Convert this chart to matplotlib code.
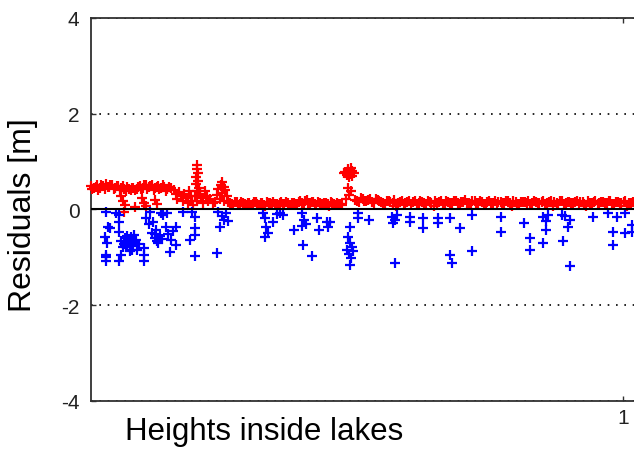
import matplotlib
matplotlib.use("Agg")
import matplotlib.pyplot as plt

plt.rcParams['font.family'] = ['Liberation Sans', 'DejaVu Sans']

# red residuals (above zero)
red_x = [
    # band on the left
    0.000, 0.006, 0.011, 0.017, 0.023, 0.029, 0.034, 0.040, 0.046, 0.052,
    0.057, 0.063, 0.069, 0.075, 0.080, 0.086, 0.092, 0.098, 0.103, 0.109,
    0.115, 0.121, 0.126, 0.132, 0.138, 0.144, 0.150,
    # points hanging under the band
    0.056, 0.060, 0.064, 0.084, 0.097, 0.100, 0.104, 0.121, 0.125, 0.062,
    # going down
    0.156, 0.160, 0.163, 0.166, 0.170, 0.173, 0.176, 0.179, 0.182, 0.185,
    0.188, 0.190, 0.192,
    # first spike
    0.200, 0.199, 0.201, 0.198, 0.202, 0.197, 0.203, 0.199, 0.205, 0.196,
    0.208, 0.200, 0.211,
    0.215, 0.218, 0.221, 0.225, 0.229, 0.233,
    # second spike
    0.247, 0.244, 0.250, 0.240, 0.253, 0.246, 0.238, 0.256, 0.243, 0.251,
    0.258,
    # flat part
    0.262, 0.268, 0.274, 0.280, 0.286, 0.292, 0.298, 0.304, 0.310, 0.316,
    0.322, 0.328, 0.334, 0.340, 0.346, 0.352, 0.358, 0.364, 0.370, 0.376,
    0.382, 0.388, 0.394, 0.400, 0.406, 0.412, 0.418, 0.424, 0.430, 0.436,
    0.442, 0.448, 0.454, 0.460, 0.466, 0.472,
    # blob
    0.478, 0.484, 0.490, 0.481, 0.487, 0.494, 0.485, 0.475, 0.491, 0.488,
    0.483, 0.488, 0.486, 0.480,
    # flat part on the right
    0.497, 0.504, 0.511, 0.518, 0.525, 0.532, 0.539, 0.546, 0.553, 0.560,
    0.567, 0.574, 0.581, 0.588, 0.595, 0.602, 0.609, 0.616, 0.623, 0.630,
    0.637, 0.644, 0.651, 0.658, 0.665, 0.672, 0.679, 0.686, 0.693, 0.700,
    0.707, 0.714, 0.721, 0.728, 0.735, 0.742, 0.749, 0.756, 0.763, 0.770,
    0.777, 0.784, 0.791, 0.798, 0.805, 0.812, 0.819, 0.826, 0.833, 0.840,
    0.847, 0.854, 0.861, 0.868, 0.875, 0.882, 0.889, 0.896, 0.903, 0.910,
    0.917, 0.924, 0.931, 0.938, 0.945, 0.952, 0.959, 0.966, 0.973, 0.980,
    0.987, 0.994, 1.001, 1.008, 1.015, 1.022,
]
red_y = [
    0.48, 0.44, 0.50, 0.45, 0.49, 0.53, 0.46, 0.50, 0.44, 0.48,
    0.45, 0.42, 0.46, 0.41, 0.44, 0.42, 0.49, 0.45, 0.51, 0.46,
    0.50, 0.44, 0.49, 0.45, 0.47, 0.42, 0.44,
    0.28, 0.18, 0.10, 0.04, 0.24, 0.14, 0.06, 0.20, 0.12, -0.05,
    0.40, 0.32, 0.22, 0.36, 0.28, 0.18, 0.33, 0.24, 0.14, 0.38,
    0.28, 0.18, 0.10,
    0.92, 0.84, 0.76, 0.68, 0.60, 0.52, 0.45, 0.38, 0.32, 0.28,
    0.24, 0.18, 0.14,
    0.38, 0.27, 0.18, 0.22, 0.13, 0.16,
    0.58, 0.50, 0.47, 0.42, 0.40, 0.34, 0.30, 0.28, 0.22, 0.18,
    0.15,
    0.14, 0.10, 0.15, 0.11, 0.13, 0.09, 0.14, 0.11, 0.15, 0.10,
    0.13, 0.08, 0.14, 0.11, 0.12, 0.10, 0.15, 0.11, 0.13, 0.09,
    0.14, 0.12, 0.17, 0.12, 0.19, 0.13, 0.16, 0.10, 0.14, 0.11,
    0.13, 0.07, 0.14, 0.10, 0.12, 0.09,
    0.78, 0.84, 0.80, 0.72, 0.74, 0.76, 0.68, 0.76, 0.70, 0.86,
    0.45, 0.38, 0.30, 0.22,
    0.20, 0.15, 0.22, 0.17, 0.21, 0.14, 0.19, 0.15, 0.12, 0.17,
    0.13, 0.06, 0.16, 0.12, 0.15, 0.11, 0.17, 0.13, 0.15, 0.12,
    0.16, 0.06, 0.14, 0.17, 0.12, 0.15, 0.13, 0.17, 0.12, 0.16,
    0.14, 0.11, 0.17, 0.13, 0.15, 0.12, 0.17, 0.14, 0.12, 0.16,
    0.13, 0.17, 0.06, 0.15, 0.12, 0.16, 0.14, 0.12, 0.17, 0.13,
    0.15, 0.11, 0.16, 0.06, 0.14, 0.17, 0.12, 0.15, 0.13, 0.16,
    0.12, 0.15, 0.06, 0.14, 0.16, 0.12, 0.15, 0.13, 0.17, 0.12,
    0.15, 0.13, 0.16, 0.06, 0.14, 0.12,
]

# more red points sitting between the ones above (the bands are dense)
red2_x = [
    0.003, 0.009, 0.014, 0.020, 0.026, 0.032, 0.037, 0.043, 0.049, 0.055,
    0.060, 0.066, 0.072, 0.078, 0.083, 0.089, 0.095, 0.101, 0.106, 0.112,
    0.118, 0.124, 0.129, 0.135, 0.141, 0.147,
    0.265, 0.271, 0.277, 0.283, 0.289, 0.295, 0.301, 0.307, 0.313, 0.319,
    0.325, 0.331, 0.337, 0.343, 0.349, 0.355, 0.361, 0.367, 0.373, 0.379,
    0.385, 0.391, 0.397, 0.403, 0.409, 0.415, 0.421, 0.427, 0.433, 0.439,
    0.445, 0.451, 0.457, 0.463, 0.469,
    0.500, 0.507, 0.514, 0.521, 0.528, 0.535, 0.542, 0.549, 0.556, 0.563,
    0.570, 0.577, 0.584, 0.591, 0.598, 0.605, 0.612, 0.619, 0.626, 0.633,
    0.640, 0.647, 0.654, 0.661, 0.668, 0.675, 0.682, 0.689, 0.696, 0.703,
    0.710, 0.717, 0.724, 0.731, 0.738, 0.745, 0.752, 0.759, 0.766, 0.773,
    0.780, 0.787, 0.794, 0.801, 0.808, 0.815, 0.822, 0.829, 0.836, 0.843,
    0.850, 0.857, 0.864, 0.871, 0.878, 0.885, 0.892, 0.899, 0.906, 0.913,
    0.920, 0.927, 0.934, 0.941, 0.948, 0.955, 0.962, 0.969, 0.976, 0.983,
    0.990, 0.997, 1.004, 1.011, 1.018,
]
red2_y = [
    0.42, 0.47, 0.41, 0.50, 0.43, 0.46, 0.51, 0.42, 0.49, 0.41,
    0.48, 0.39, 0.43, 0.45, 0.40, 0.47, 0.43, 0.50, 0.42, 0.48,
    0.41, 0.47, 0.43, 0.50, 0.39, 0.46,
    0.12, 0.16, 0.10, 0.15, 0.12, 0.14, 0.10, 0.16, 0.12, 0.14,
    0.10, 0.15, 0.13, 0.16, 0.11, 0.13, 0.12, 0.16, 0.10, 0.14,
    0.12, 0.15, 0.13, 0.18, 0.14, 0.16, 0.12, 0.15, 0.11, 0.14,
    0.12, 0.15, 0.11, 0.14, 0.12,
    0.17, 0.23, 0.18, 0.20, 0.16, 0.22, 0.17, 0.13, 0.18, 0.15,
    0.19, 0.14, 0.17, 0.13, 0.18, 0.15, 0.12, 0.18, 0.14, 0.17,
    0.13, 0.18, 0.15, 0.12, 0.17, 0.14, 0.18, 0.13, 0.16, 0.19,
    0.13, 0.17, 0.14, 0.18, 0.12, 0.16, 0.14, 0.18, 0.15, 0.13,
    0.17, 0.14, 0.18, 0.12, 0.16, 0.15, 0.18, 0.13, 0.16, 0.14,
    0.18, 0.13, 0.17, 0.15, 0.12, 0.18, 0.14, 0.16, 0.13, 0.18,
    0.15, 0.12, 0.17, 0.14, 0.18, 0.13, 0.16, 0.14, 0.18, 0.12,
    0.16, 0.14, 0.17, 0.13, 0.15,
]

# blue residuals (below zero)
blue_x = [
    0.029, 0.033, 0.026, 0.031, 0.029, 0.029, 0.029, 0.054, 0.054, 0.054,
    0.057, 0.057, 0.054, 0.064, 0.070, 0.076, 0.066, 0.079, 0.085, 0.074,
    0.087, 0.062, 0.081, 0.091, 0.101, 0.101, 0.101, 0.104, 0.117, 0.123,
    0.121, 0.130, 0.127, 0.115, 0.136, 0.141, 0.151, 0.160, 0.160, 0.149,
    0.173, 0.132, 0.111, 0.143, 0.190,
    0.068, 0.072, 0.060, 0.083, 0.078, 0.068, 0.125, 0.133, 0.120, 0.110,
    0.146, 0.155, 0.036, 0.047,
    0.196, 0.196, 0.196, 0.187, 0.196, 0.237, 0.239, 0.247, 0.254, 0.258,
    0.243, 0.250, 0.324, 0.327, 0.329, 0.333, 0.327, 0.343, 0.356, 0.350,
    0.362, 0.381, 0.397, 0.401, 0.397, 0.405, 0.399, 0.415, 0.425, 0.428,
    0.443, 0.446, 0.450, 0.487, 0.483, 0.487, 0.491, 0.481, 0.493, 0.485,
    0.489, 0.487, 0.503, 0.503, 0.522,
    0.566, 0.572, 0.568, 0.576, 0.600, 0.600, 0.625, 0.625, 0.653, 0.653,
    0.675, 0.694, 0.716, 0.572, 0.675, 0.678, 0.716,
    0.770, 0.770, 0.813, 0.825, 0.825, 0.850, 0.855, 0.859, 0.855, 0.850,
    0.885, 0.891, 0.900, 0.897, 0.888, 0.900, 0.944, 0.972, 0.989, 1.004,
    0.982, 1.004, 0.982, 1.016, 1.016,
]
blue_y = [
    -0.05, -0.36, -0.57, -0.70, -0.95, -1.00, -1.09, -0.12, -0.26, -0.47,
    -0.67, -0.95, -1.09, -0.60, -0.68, -0.58, -0.78, -0.76, -0.64, -0.87,
    -0.85, -0.72, -0.53, -0.72, -0.80, -0.95, -1.09, -0.19, -0.26, -0.43,
    -0.60, -0.55, -0.70, -0.49, -0.12, -0.37, -0.64, -0.37, -0.74, -0.89,
    -0.05, -0.08, -0.05, -0.08, -0.06,
    -0.72, -0.62, -0.78, -0.68, -0.85, -0.55, -0.66, -0.62, -0.52, -0.30,
    -0.52, -0.45, -0.40, -0.08,
    -0.15, -0.39, -0.53, -0.64, -0.98, -0.91, -0.06, -0.14, -0.08, -0.24,
    -0.36, -0.22, -0.08, -0.18, -0.36, -0.49, -0.58, -0.26, -0.08, -0.10,
    -0.12, -0.43, -0.08, -0.22, -0.35, -0.30, -0.74, -0.98, -0.18, -0.43,
    -0.26, -0.36, -0.26, -0.36, -0.58, -0.70, -0.78, -0.85, -0.87, -0.93,
    -1.01, -1.16, -0.08, -0.19, -0.22,
    -0.16, -0.22, -0.29, -0.12, -0.15, -0.26, -0.19, -0.39, -0.19, -0.29,
    -0.19, -0.39, -0.12, -1.12, -0.95, -1.12, -0.88,
    -0.15, -0.47, -0.29, -0.60, -0.85, -0.16, -0.24, -0.12, -0.43, -0.71,
    -0.12, -0.14, -0.22, -0.36, -0.67, -1.19, -0.15, -0.08, -0.16, -0.08,
    -0.47, -0.50, -0.74, -0.33, -0.47,
]

y_ticks = [-4, -2, 0, 2, 4]

fig = plt.figure(figsize=(6.34, 4.52), dpi=100)
# the axes run past the right edge of the picture, like the cropped original
ax = fig.add_axes([0.1431, 0.1113, 0.9236, 0.8467])

mk = dict(linestyle='none', marker='+', ms=7.6, mew=1.6,
          clip_on=False, antialiased=False)
ax.plot(red_x, red_y, color='#ff0000', zorder=3, **mk)
ax.plot(red2_x, red2_y, color='#ff0000', zorder=3, **mk)
ax.plot(blue_x, blue_y, color='#0000ff', zorder=4, **mk)
ax.axhline(0, color='black', lw=1.5, zorder=5)

ax.set_xlim(0, 1.1)
ax.set_ylim(-4, 4)
ax.set_yticks(y_ticks)
ax.set_yticklabels([str(t) for t in y_ticks])
ax.set_xticks([1])
ax.set_xticklabels(['1'])

ax.grid(axis='y', color='black', linestyle=(0, (1, 4)), lw=1.2)
ax.grid(axis='x', visible=False)

for s in ax.spines.values():
    s.set_color('#303030')
    s.set_linewidth(1.3)

ax.tick_params(axis='both', direction='in', length=3.5, width=1,
               color='#303030', labelsize=15, labelcolor='#222222',
               top=True, right=True)
ax.tick_params(axis='y', pad=8)
ax.tick_params(axis='x', pad=5)

fig.text(0.4164, 0.0265, 'Heights inside lakes', fontsize=22.5,
         ha='center', va='baseline', color='black')
fig.text(0.0363, 0.5243, 'Residuals [m]', fontsize=23, rotation=90,
         ha='center', va='center', color='black')

fig.savefig('out.png', dpi=100)
